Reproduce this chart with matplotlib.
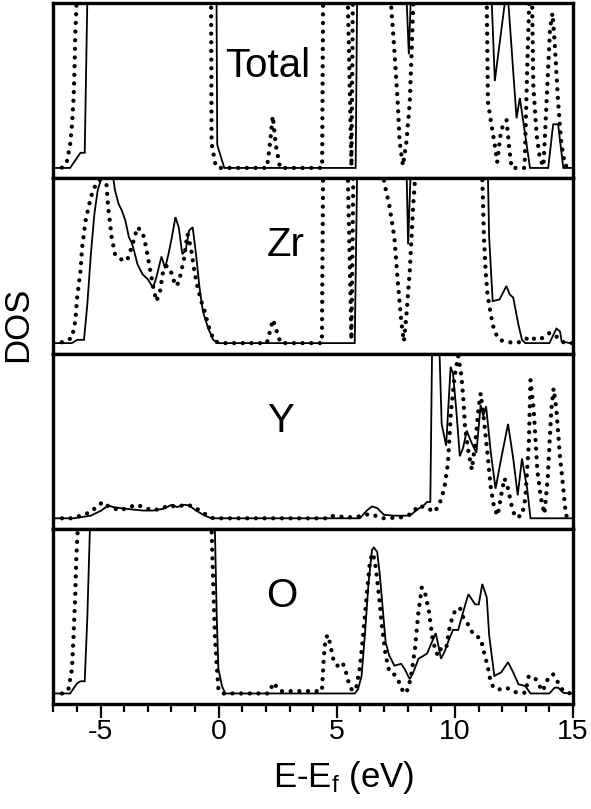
import matplotlib
matplotlib.use("Agg")
import matplotlib.pyplot as plt
from matplotlib.ticker import MultipleLocator

plt.rcParams['font.family'] = ['Liberation Sans', 'DejaVu Sans']
plt.rcParams['mathtext.default'] = 'regular'

panel_labels = ["Total", "Zr", "Y", "O"]

# ---- Total ----
total_solid_e = [-7.0, -6.29, -5.85, -5.67, -5.56, -3.0, -0.09, -0.06, 0.24, 5.8, 5.86, 7.0, 7.96, 8.05, 8.13,
                 10.0, 11.56, 11.69, 12.12, 12.19, 12.26, 12.61, 12.75, 13.18, 13.95, 14.16, 14.37, 14.59, 15.0]
total_solid_v = [0, 0, 9.2, 9.2, 102, 300, 102, 14, 0, 0, 102, 300, 101, 69, 101,
                 300, 101, 52.8, 101, 130, 101, 30.2, 42.5, 0, 0, 26.5, 26.5, 0, 0]
total_dot_e = [-7.0, -6.65, -6.43, -6.29, -6.21, -6.14, -6.1, -6.07, -6.02, -5.95, -3.0, -0.36, -0.32, -0.3,
               -0.15, -0.04, 2.04, 2.15, 2.29, 2.42, 2.6, 4.38, 4.42, 4.5, 5.4, 5.47, 5.62, 5.68, 6.5,
               7.29, 7.44, 7.58, 7.66, 7.8, 7.95, 8.09, 8.17, 8.24, 8.3, 10.0, 11.35, 11.4, 11.55, 11.69,
               11.79, 11.93, 12.05, 12.19, 12.3, 12.4, 12.95, 13.08, 13.15, 13.2, 13.27, 13.32, 13.46,
               13.6, 13.75, 13.88, 14.03, 14.13, 14.22, 14.37, 14.5, 14.66, 15.0]
total_dot_v = [0, 0, 3.5, 13.8, 26, 42.5, 61, 81.5, 98, 150, 300, 150, 101, 15,
               3, 0, 0, 12, 31.5, 14, 0, 0, 101, 300, 300, 101, 1, 101, 300,
               101, 71, 40, 16, 1.4, 16, 40, 71, 100, 150, 300, 101, 40, 26, 13.8,
               3.5, 20, 27, 29, 12, 0, 0, 70, 101, 115, 101, 50, 20,
               5.5, 1, 40, 85, 94, 77, 40, 16, 1.5, 0]

# ---- Zr ----
zr_solid_e = [-7.0, -6.21, -5.99, -5.7, -5.56, -5.41, -5.26, -5.12, -4.97, -4.73, -4.46, -4.39, -4.24, -4.1,
              -3.95, -3.8, -3.69, -3.58, -3.44, -3.22, -3.0, -2.78, -2.64, -2.42, -2.27, -2.13, -1.98,
              -1.83, -1.69, -1.54, -1.4, -1.25, -1.1, -0.96, -0.81, -0.67, -0.45, -0.23, -0.01, 5.76,
              5.86, 7.0, 7.96, 8.02, 8.12, 10.0, 11.4, 11.45, 11.6, 11.89, 12.18, 12.32, 12.47, 12.69,
              12.84, 12.98, 14.0, 14.3, 14.45, 14.52, 14.88, 15.0]
zr_solid_v = [0, 0, 2.0, 2.0, 23.5, 54, 78.6, 92.9, 100, 110, 100, 92.9, 84.7, 80.6,
              74.5, 64.3, 61.2, 56.1, 48, 41.8, 38.8, 33.7, 39.8, 52.6, 45.5, 53.7, 64.3,
              76.5, 70.4, 54.1, 56.1, 68.4, 70.4, 54.1, 33.7, 19.4, 9.2, 2, 0, 0,
              102, 300, 101, 60, 101, 300, 101, 64.3, 25.5, 26.5, 34.7, 29.6, 27.6, 11.2,
              2, 0, 0, 8.8, 7.1, 1, 0, 0]
zr_dot_e = [-7.0, -6.73, -6.21, -6.07, -5.99, -5.85, -5.78, -5.63, -5.41, -5.19, -4.97, -4.85, -4.75,
            -4.68, -4.61, -4.53, -4.39, -4.17, -3.88, -3.66, -3.44, -3.22, -3.07, -2.93, -2.78, -2.64,
            -2.49, -2.34, -2.2, -2.05, -1.83, -1.69, -1.47, -1.32, -1.18, -1.03, -0.89, -0.74, -0.59,
            -0.45, -0.3, -0.16, 0.14, 2.04, 2.3, 2.62, 4.37, 4.42, 4.5, 5.4, 5.47, 5.62, 5.7, 6.5,
            7.0, 7.22, 7.44, 7.58, 7.73, 7.84, 7.95, 8.09, 8.24, 8.32, 10.0, 11.16, 11.23, 11.3,
            11.38, 11.52, 11.67, 11.89, 12.11, 12.55, 12.84, 13.2, 13.42, 13.71, 14.0, 14.22, 14.44,
            14.66, 15.0]
zr_dot_v = [0, 0, 3.1, 13.3, 27.6, 43.9, 58.2, 74.5, 88.8, 96.9, 100, 105, 96.9,
            82.7, 74.5, 64.3, 54.1, 51, 50, 59.2, 70.4, 67.3, 58.2, 46.9, 34.7, 25.5,
            30.6, 44.9, 46.9, 44.9, 34.7, 36.7, 51, 66.3, 58.2, 43.9, 33.7, 25.5, 19.4,
            11.2, 5.1, 1, 0, 0, 14.3, 0, 0, 101, 300, 300, 101, 2, 101, 300,
            98, 84, 64, 37.8, 13.3, 1, 17.3, 43.9, 84.7, 101, 300, 101, 64.3, 43.9,
            29.6, 17.3, 7.1, 2, 1, 0, 1, 4.1, 2, 3.1, 6.1, 5.1, 2,
            0, 0]

# ---- Y ----
y_solid_e = [-7.0, -6.14, -5.41, -4.97, -4.68, -4.46, -3.95, -3.22, -2.78, -2.34, -1.98, -1.76, -1.47,
             -1.25, -0.96, -0.59, -0.3, 5.98, 6.27, 6.49, 6.71, 7.0, 7.44, 8.09, 8.46, 8.68, 8.82, 8.96,
             9.04, 9.19, 9.33, 9.44, 9.63, 9.82, 9.92, 10.06, 10.21, 10.35, 10.5, 10.72, 10.91, 11.09,
             11.2, 11.32, 11.52, 11.72, 11.96, 12.25, 12.47, 12.66, 12.84, 13.06, 13.2, 15.0]
y_solid_v = [0, 0, 1.6, 4.7, 7.8, 6.8, 5.8, 4.7, 4.7, 5.8, 8.2, 6.8, 8.2,
             7.8, 4.7, 1.6, 0, 0, 4.7, 7.2, 6.2, 2.1, 1.6, 1.6, 5.8, 7.8, 9.9, 9.9,
             110, 150, 110, 57.3, 44.1, 92, 88, 65.6, 37.7, 42.9, 53.2, 45.4, 39.8, 68.7,
             62, 68, 40, 18, 36.3, 57.3, 36.3, 14, 36.3, 18, 0, 0]
y_dot_e = [-7.0, -6.14, -5.85, -5.41, -5.19, -4.9, -4.68, -4.39, -4.17, -3.8, -3.44, -3.22, -2.78,
           -2.49, -2.05, -1.76, -1.54, -1.32, -1.03, -0.59, -0.23, 4.52, 4.66, 4.95, 5.54, 5.98, 6.41,
           6.63, 7.0, 7.73, 8.17, 8.46, 8.68, 8.9, 9.12, 9.33, 9.55, 9.7, 9.84, 9.99, 10.14, 10.28,
           10.36, 10.43, 10.57, 10.72, 10.86, 11.01, 11.09, 11.23, 11.38, 11.52, 11.67, 11.81, 11.96,
           12.1, 12.25, 12.4, 12.55, 12.84, 12.98, 13.13, 13.2, 13.34, 13.49, 13.64, 13.79, 13.93,
           14.08, 14.18, 14.3, 14.44, 14.59, 14.7, 14.88, 15.0]
y_dot_v = [0, 0, 1.6, 3.7, 6.8, 9.9, 7.4, 5.8, 4.7, 6.8, 8.2, 6.8, 4.7,
           5.8, 7.8, 6.8, 7.8, 8.2, 6.8, 2.7, 0, 0, 1.6, 1.2, 0.6, 1.2, 2.7,
           1.6, 0, 0.6, 2.7, 7.8, 6.8, 5.8, 3.7, 7.8, 18, 32.6, 65.6, 86.2, 98.6, 86.2,
           71.8, 55.3, 40.8, 29.5, 45.4, 68, 75.9, 59.8, 39.2, 18.6, 5.8, 1.6, 14,
           24.3, 18, 7.8, 0.6, 1.6, 11.8, 45, 84, 65.6, 28.9, 12.4, 2.7, 24.3,
           65.6, 78.9, 65.6, 38.8, 18, 1.6, 0.6, 0.6]

# ---- O ----
o_solid_e = [-7.0, -6.29, -5.99, -5.85, -5.67, -5.56, -5.45, -5.41, -3.0, -0.2, -0.16, -0.08, -0.01, 0.14,
             0.28, 5.76, 5.9, 6.05, 6.19, 6.34, 6.49, 6.57, 6.71, 6.82, 6.92, 7.07, 7.22, 7.44, 7.73,
             7.87, 8.09, 8.24, 8.46, 8.82, 8.97, 9.19, 9.3, 9.41, 9.56, 9.77, 9.92, 10.14, 10.36, 10.57,
             10.86, 11.01, 11.16, 11.35, 11.45, 11.67, 11.96, 12.25, 12.47, 12.69, 12.98, 13.2, 14.0,
             14.22, 14.37, 14.59, 14.88, 15.0]
o_solid_v = [0, 0, 6.2, 7.4, 7.4, 46, 100, 150, 300, 150, 100, 45.5, 14.9, 4.5,
             0, 0, 2.5, 10.7, 35.5, 66.5, 87.2, 88.6, 86, 72.3, 55.8, 31, 23.1, 16.9, 18,
             14.9, 8.7, 12.8, 21.1, 24.2, 29.3, 36.6, 29.3, 21.1, 25.2, 33.5, 38.6, 38.6, 50, 60.3,
             54.1, 54.1, 66.5, 58.3, 35.5, 10.7, 12.8, 19, 12.8, 5.6, 4.5, 0, 0,
             3.5, 3.5, 0.4, 0, 0]
o_dot_e = [-7.0, -6.58, -6.36, -6.21, -6.14, -6.07, -6.03, -5.97, -5.92, -3.0, -0.37, -0.3, -0.23,
           -0.16, -0.08, -0.01, 0.14, 2.11, 2.33, 2.47, 2.62, 4.37, 4.44, 4.52, 4.63, 4.73, 4.88, 5.03,
           5.24, 5.39, 5.54, 5.68, 5.82, 5.97, 6.12, 6.27, 6.41, 6.53, 6.63, 6.78, 6.92, 7.07, 7.22,
           7.36, 7.58, 7.84, 8.02, 8.17, 8.31, 8.46, 8.6, 8.75, 8.9, 9.04, 9.19, 9.3, 9.41, 9.63,
           9.77, 9.92, 10.06, 10.21, 10.36, 10.57, 10.79, 11.09, 11.23, 11.38, 11.52, 11.67, 11.89,
           12.18, 12.55, 12.98, 13.13, 13.42, 13.71, 13.93, 14.15, 14.37, 14.59, 14.88, 15.0]
o_dot_v = [0, 0, 2.5, 14.9, 35.5, 60.3, 80.9, 98.4, 150, 300, 150, 100, 66.9,
           35.5, 16.9, 2.5, 0, 0, 6.6, 3.5, 1.4, 1.4, 19, 33.5, 35.5, 29.3, 19, 16.9,
           19, 12.8, 4.5, 1.4, 3.5, 14.9, 35.5, 60.3, 80.9, 85.1, 78.9, 60.3, 39.7, 23.1, 13.6,
           12.8, 8.7, 0, 2.5, 12.8, 27.3, 50, 64.5, 60.3, 50, 34.5, 25.2, 23.1, 27.3, 27.3,
           39.7, 47.9, 51, 52.1, 45.9, 41.7, 35.5, 33.5, 25.2, 16.9, 6.6, 2.9, 2.5,
           3.5, 0.8, 0.4, 10.7, 8.7, 1.4, 8.7, 11.8, 6.6, 1.4, 0, 0]

solid_series = [(total_solid_e, total_solid_v), (zr_solid_e, zr_solid_v),
                (y_solid_e, y_solid_v), (o_solid_e, o_solid_v)]
dot_series = [(total_dot_e, total_dot_v), (zr_dot_e, zr_dot_v),
              (y_dot_e, y_dot_v), (o_dot_e, o_dot_v)]
label_x = [2.08, 2.84, 2.62, 2.69]
label_y = [0.577, 0.56, 0.554, 0.553]

xticks_major = [-5, 0, 5, 10, 15]

fig = plt.figure(figsize=(5.91, 8.09), dpi=100)
gs = fig.add_gridspec(4, 1, left=53.3 / 591, right=573 / 591,
                      bottom=1 - 704 / 809, top=1 - 3.3 / 809, hspace=0)

axes = []
for i in range(4):
    ax = fig.add_subplot(gs[i, 0], sharex=axes[0] if axes else None)
    axes.append(ax)
    se, sv = solid_series[i]
    de, dv = dot_series[i]
    ax.plot(se, sv, color='black', lw=1.3, solid_joinstyle='miter')
    ax.plot(de, dv, color='black', lw=3.1, linestyle=(0, (0.01, 2.0)),
            dash_capstyle='round')
    ax.set_xlim(-7, 15)
    ax.set_ylim(-6.4, 100)
    ax.set_yticks([])
    for sp in ax.spines.values():
        sp.set_linewidth(2.4)
        sp.set_color('black')
    ax.text(label_x[i], label_y[i], panel_labels[i], transform=ax.get_xaxis_transform(),
            ha='center', va='baseline', fontsize=29)
    if i < 3:
        ax.tick_params(axis='x', which='both', bottom=False, labelbottom=False)

axb = axes[-1]
axb.set_xticks(xticks_major)
axb.set_xticklabels([str(t) for t in xticks_major])
axb.xaxis.set_minor_locator(MultipleLocator(1))
axb.tick_params(axis='x', which='major', direction='out', length=10, width=1.6,
                labelsize=20.5, pad=1)
axb.tick_params(axis='x', which='minor', direction='out', length=5.5, width=1.6)

fig.text(344 / 591, 1 - 787 / 809, 'E-E$_{f}$ (eV)', ha='center', va='baseline', fontsize=25)
fig.text(17.5 / 591, 1 - 324 / 809, 'DOS', rotation=90, ha='center', va='center', fontsize=25)

fig.savefig('out.png', dpi=100)
